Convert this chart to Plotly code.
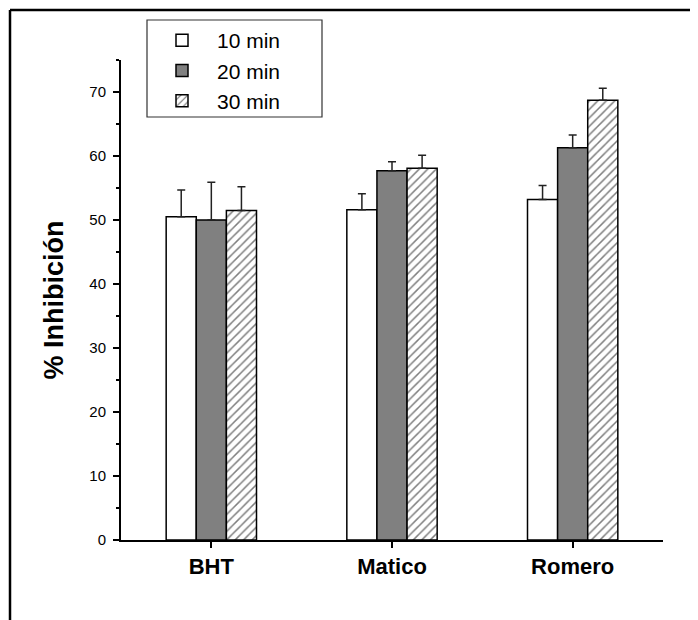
import plotly.graph_objects as go

categories = ["BHT", "Matico", "Romero"]
series_names = ["10 min", "20 min", "30 min"]
vals_10 = [50.5, 51.6, 53.2]
vals_20 = [50.0, 57.7, 61.3]
vals_30 = [51.5, 58.1, 68.7]
err_10 = [4.2, 2.5, 2.2]
err_20 = [5.9, 1.4, 2.0]
err_30 = [3.7, 2.0, 1.9]
y_ticks = [0, 10, 20, 30, 40, 50, 60, 70]

W, H = 698, 620
O = 8  # page body offset of the figure inside the browser window
# plot area in screen pixels
SX0, SX1, SY0, SY1 = 121, 663, 60, 540
ML, MR = SX0 - O, W - (SX1 - O)
MT, MB = SY0 - O, H - (SY1 - O)
PW, PH = SX1 - SX0, SY1 - SY0


def px(x):
    return (x - SX0) / PW


def py(y):
    return (SY1 - y) / PH


FONT = "Liberation Sans, Arial, sans-serif"

styles = [
    dict(color="white", line=dict(color="black", width=1.5)),
    dict(color="#808080", line=dict(color="black", width=1.5)),
    dict(color="white", line=dict(color="black", width=1.5),
         pattern=dict(shape="/", fgcolor="black", bgcolor="white", size=6, solidity=0.25)),
]

fig = go.Figure()
for name, vals, errs, st in zip(series_names, [vals_10, vals_20, vals_30],
                                [err_10, err_20, err_30], styles):
    fig.add_trace(go.Bar(
        x=categories, y=vals, name=name, marker=st,
        error_y=dict(type="data", array=errs, arrayminus=[0] * len(errs),
                     symmetric=False, color="#222222", thickness=1.5, width=4),
    ))

fig.update_layout(
    width=W, height=H,
    margin=dict(l=ML, r=MR, t=MT, b=MB),
    paper_bgcolor="white", plot_bgcolor="white",
    barmode="group", bargap=0.5, bargroupgap=0,
    font=dict(family=FONT, color="black"),
    showlegend=True,
    legend=dict(x=px(147), y=py(20), xanchor="left", yanchor="top",
                bgcolor="rgba(0,0,0,0)", borderwidth=0,
                font=dict(size=21, family=FONT), itemwidth=60,
                tracegroupgap=0),
    xaxis=dict(range=[-0.5, 2.5], showline=True, linecolor="black", linewidth=2,
               ticks="outside", ticklen=6, tickwidth=1.5, tickcolor="black",
               tickfont=dict(size=22, family=FONT, weight="bold"),
               showgrid=False, zeroline=False),
    yaxis=dict(range=[0, 75], tickvals=y_ticks, showline=True, linecolor="black",
               linewidth=2, ticks="outside", ticklen=6, tickwidth=1.5,
               tickcolor="black", tickfont=dict(size=15, family=FONT),
               ticklabelstandoff=4,
               minor=dict(dtick=5, ticks="outside", ticklen=3, tickwidth=1.5,
                          tickcolor="black"),
               showgrid=False, zeroline=False,
               title=dict(text="% Inhibición", font=dict(size=27, family=FONT, weight="bold"),
                          standoff=18)),
    shapes=[
        dict(type="rect", xref="paper", yref="paper", x0=px(147), x1=px(322),
             y0=py(117), y1=py(20), line=dict(color="#333333", width=1.2)),
        dict(type="line", xref="paper", yref="paper", x0=px(10), x1=px(10),
             y0=py(H + 20), y1=py(10), line=dict(color="black", width=2.5)),
        dict(type="line", xref="paper", yref="paper", x0=px(10), x1=px(W + 20),
             y0=py(10), y1=py(10), line=dict(color="black", width=2.5)),
    ],
)

fig.write_html("out.html")
